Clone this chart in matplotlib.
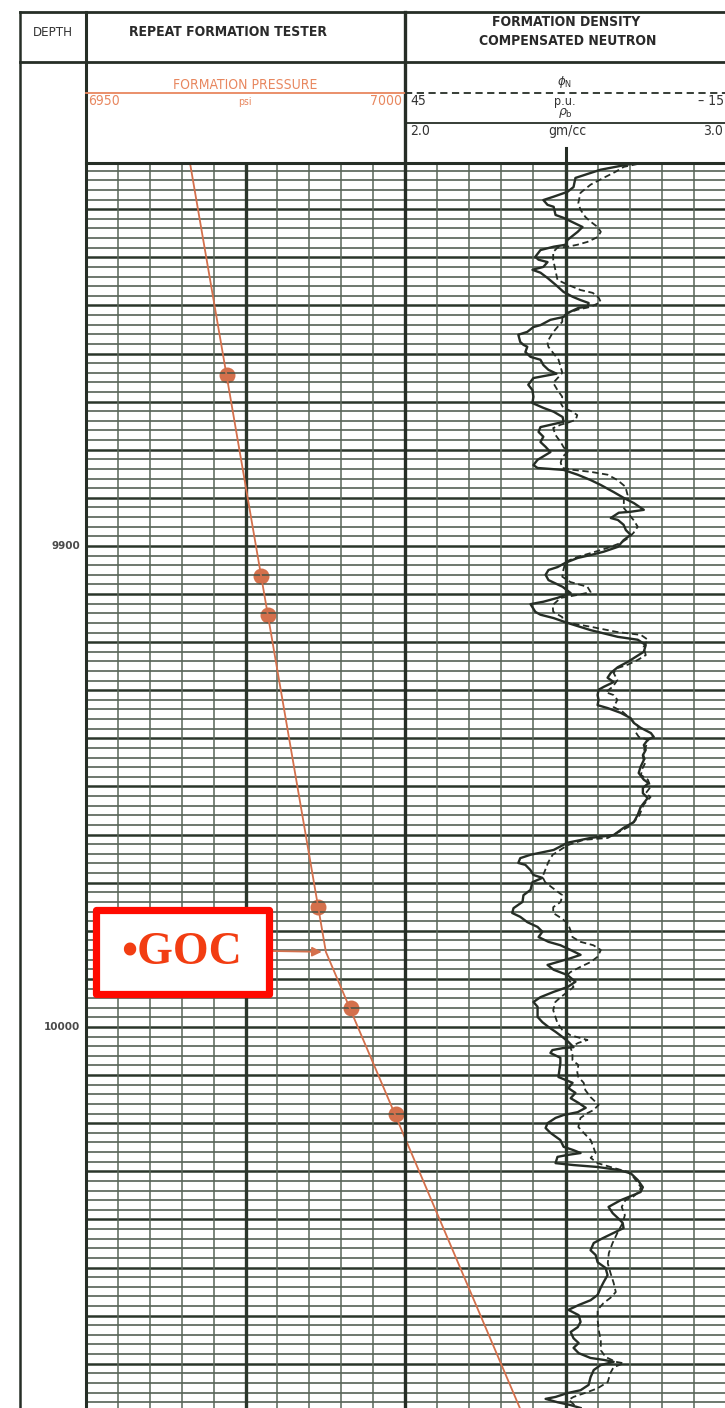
import matplotlib
matplotlib.use('Agg')
import matplotlib.pyplot as plt
from matplotlib.lines import Line2D
from matplotlib.patches import Rectangle
import numpy as np

# RFT pressure test points (depth ft, psi)
rft_depth = [9864.4, 9906.2, 9914.3, 9975.1, 9996.0, 10018.1]
rft_pressure = [6972.1, 6977.4, 6978.5, 6986.4, 6991.5, 6998.6]

# gas and oil gradient lines meeting at the gas-oil contact
trend_depth = [9820.4, 9984.4, 10079.2]
trend_pressure = [6966.3, 6987.6, 7018.0]
goc_depth = 9984.4

depth_labels = [9900, 10000]

# bulk density (solid curve)
rhob_depth = [
    9820.6, 9821.8, 9823.5, 9825.4, 9826.4, 9827.4, 9828.1, 9829.1, 9829.5, 9831.2,
    9831.8, 9832.8, 9833.7, 9834.7, 9836.4, 9837.4, 9837.8, 9838.5, 9839.9, 9840.5,
    9841.0, 9842.0, 9842.6, 9843.2, 9844.3, 9845.7, 9847.2, 9848.2, 9848.9, 9849.5,
    9850.3, 9850.5, 9851.6, 9852.4, 9853.0, 9854.1, 9854.5, 9855.5, 9856.1, 9857.6,
    9858.2, 9858.6, 9859.7, 9860.7, 9861.3, 9862.4, 9863.4, 9864.2, 9865.1, 9866.5,
    9867.6, 9869.0, 9870.3, 9871.3, 9872.1, 9873.2, 9874.2, 9875.3, 9876.3, 9877.3,
    9878.4, 9879.4, 9880.5, 9881.1, 9882.1, 9883.2, 9883.8, 9884.2, 9885.2, 9886.3,
    9887.3, 9888.8, 9890.0, 9891.1, 9892.5, 9892.9, 9893.1, 9894.2, 9894.6, 9895.6,
    9896.7, 9897.7, 9898.8, 9900.2, 9901.2, 9901.9, 9902.5, 9903.5, 9904.4, 9905.0,
    9906.0, 9907.1, 9908.5, 9909.8, 9910.8, 9911.6, 9912.1, 9913.7, 9914.3, 9915.0,
    9916.0, 9917.5, 9918.9, 9919.5, 9920.6, 9922.0, 9923.3, 9924.1, 9925.2, 9926.4,
    9927.4, 9928.3, 9929.3, 9929.9, 9931.0, 9932.0, 9933.1, 9933.7, 9934.7, 9935.8,
    9936.8, 9937.8, 9938.9, 9939.7, 9940.3, 9941.4, 9942.4, 9943.5, 9944.5, 9945.9,
    9947.2, 9948.6, 9949.3, 9950.3, 9951.4, 9952.4, 9954.3, 9955.9, 9957.4, 9958.6,
    9960.1, 9960.7, 9961.7, 9963.2, 9964.2, 9964.9, 9965.9, 9966.3, 9967.4, 9968.4,
    9969.0, 9969.9, 9971.5, 9972.6, 9974.0, 9975.3, 9976.3, 9977.1, 9978.2, 9979.2,
    9980.2, 9981.3, 9982.3, 9983.0, 9984.0, 9985.0, 9985.7, 9986.5, 9987.1, 9988.1,
    9989.2, 9990.6, 9991.7, 9992.7, 9993.8, 9994.8, 9995.8, 9997.9, 9999.0, 10000.0,
    10001.0, 10002.1, 10003.1, 10004.2, 10004.4, 10004.8, 10005.4, 10006.4, 10007.5, 10010.4,
    10011.0, 10011.6, 10012.7, 10013.7, 10014.8, 10015.8, 10016.8, 10017.7, 10018.3, 10018.9,
    10020.0, 10021.0, 10022.0, 10023.5, 10024.9, 10025.6, 10026.2, 10026.6, 10027.0, 10028.3,
    10028.7, 10029.1, 10029.7, 10030.4, 10031.8, 10033.3, 10034.3, 10034.9, 10036.0, 10037.4,
    10038.7, 10039.7, 10040.7, 10041.8, 10042.8, 10043.9, 10044.9, 10046.4, 10047.4, 10048.9,
    10050.1, 10051.6, 10053.0, 10054.3, 10055.7, 10056.8, 10057.8, 10058.8, 10059.9, 10061.3,
    10062.4, 10063.4, 10064.7, 10065.7, 10066.7, 10067.8, 10068.8, 10069.2, 10069.6, 10070.3,
    10071.3, 10072.8, 10074.4, 10075.5, 10076.1, 10076.9, 10077.3, 10078.0, 10078.6, 10079.2,
]
rhob = [
    2.703, 2.609, 2.531, 2.525, 2.506, 2.463, 2.431, 2.444, 2.463, 2.469,
    2.494, 2.525, 2.553, 2.538, 2.506, 2.500, 2.463, 2.422, 2.406, 2.416,
    2.444, 2.431, 2.397, 2.422, 2.444, 2.469, 2.494, 2.522, 2.547, 2.572,
    2.569, 2.541, 2.506, 2.494, 2.453, 2.422, 2.400, 2.381, 2.353, 2.359,
    2.369, 2.381, 2.375, 2.391, 2.422, 2.431, 2.447, 2.472, 2.400, 2.384,
    2.397, 2.400, 2.397, 2.431, 2.463, 2.491, 2.494, 2.422, 2.416, 2.431,
    2.422, 2.438, 2.453, 2.438, 2.413, 2.400, 2.413, 2.494, 2.538, 2.578,
    2.609, 2.650, 2.681, 2.713, 2.744, 2.703, 2.666, 2.641, 2.663, 2.681,
    2.688, 2.703, 2.681, 2.663, 2.619, 2.578, 2.538, 2.500, 2.475, 2.447,
    2.438, 2.447, 2.491, 2.516, 2.475, 2.431, 2.391, 2.406, 2.422, 2.463,
    2.506, 2.578, 2.663, 2.725, 2.750, 2.744, 2.713, 2.694, 2.663, 2.641,
    2.631, 2.650, 2.619, 2.603, 2.600, 2.603, 2.600, 2.631, 2.672, 2.703,
    2.713, 2.734, 2.766, 2.775, 2.756, 2.744, 2.750, 2.741, 2.744, 2.734,
    2.728, 2.744, 2.759, 2.741, 2.741, 2.756, 2.734, 2.725, 2.713, 2.681,
    2.650, 2.578, 2.506, 2.463, 2.391, 2.359, 2.353, 2.375, 2.391, 2.400,
    2.428, 2.397, 2.391, 2.369, 2.366, 2.338, 2.334, 2.359, 2.381, 2.413,
    2.428, 2.416, 2.447, 2.484, 2.516, 2.547, 2.516, 2.475, 2.444, 2.463,
    2.506, 2.531, 2.506, 2.463, 2.422, 2.400, 2.413, 2.413, 2.428, 2.447,
    2.469, 2.491, 2.509, 2.525, 2.491, 2.459, 2.453, 2.484, 2.484, 2.478,
    2.500, 2.522, 2.509, 2.531, 2.516, 2.541, 2.563, 2.538, 2.494, 2.469,
    2.444, 2.438, 2.453, 2.484, 2.494, 2.525, 2.547, 2.506, 2.475, 2.469,
    2.525, 2.600, 2.663, 2.703, 2.725, 2.741, 2.734, 2.713, 2.672, 2.634,
    2.647, 2.663, 2.678, 2.681, 2.650, 2.616, 2.588, 2.578, 2.594, 2.600,
    2.625, 2.631, 2.619, 2.609, 2.600, 2.578, 2.541, 2.509, 2.541, 2.547,
    2.538, 2.516, 2.525, 2.541, 2.525, 2.541, 2.578, 2.619, 2.650, 2.609,
    2.588, 2.578, 2.572, 2.547, 2.506, 2.469, 2.438, 2.475, 2.516, 2.547,
]

# neutron porosity (dashed curve)
nphi_depth = [
    9820.6, 9821.2, 9822.2, 9823.5, 9824.9, 9826.6, 9828.7, 9830.1, 9831.6, 9832.6,
    9833.7, 9834.7, 9835.8, 9836.8, 9837.4, 9837.8, 9838.0, 9838.9, 9840.5, 9842.6,
    9844.7, 9845.7, 9846.8, 9847.4, 9848.4, 9849.3, 9850.3, 9850.9, 9851.6, 9852.4,
    9853.4, 9854.5, 9855.7, 9857.6, 9858.6, 9859.9, 9861.3, 9862.8, 9864.0, 9864.9,
    9866.1, 9867.6, 9869.0, 9870.3, 9871.3, 9872.1, 9872.8, 9873.8, 9874.4, 9874.8,
    9875.5, 9876.9, 9878.4, 9879.4, 9880.5, 9881.5, 9882.7, 9883.8, 9884.2, 9884.6,
    9885.2, 9886.3, 9887.7, 9889.4, 9890.4, 9892.1, 9893.1, 9894.6, 9896.0, 9897.3,
    9898.3, 9899.4, 9900.4, 9901.5, 9902.3, 9903.3, 9905.0, 9906.4, 9907.5, 9908.5,
    9909.6, 9910.2, 9910.8, 9912.3, 9913.7, 9914.8, 9915.8, 9916.8, 9917.9, 9918.5,
    9919.5, 9921.0, 9922.7, 9923.7, 9924.7, 9925.4, 9926.4, 9927.9, 9929.3, 9930.4,
    9931.0, 9932.0, 9933.5, 9934.5, 9935.6, 9936.6, 9937.6, 9938.7, 9939.7, 9940.3,
    9941.8, 9943.0, 9944.9, 9946.2, 9947.6, 9948.6, 9950.1, 9951.4, 9952.2, 9953.8,
    9956.3, 9958.4, 9959.5, 9960.7, 9961.1, 9962.2, 9964.2, 9965.7, 9967.4, 9968.8,
    9969.9, 9971.1, 9972.6, 9974.0, 9975.1, 9976.3, 9977.3, 9978.4, 9979.8, 9981.3,
    9982.3, 9983.0, 9984.0, 9985.4, 9986.5, 9987.5, 9988.6, 9989.6, 9990.6, 9991.7,
    9992.7, 9993.8, 9994.8, 9996.5, 9999.2, 10000.6, 10001.7, 10002.7, 10003.3, 10004.2,
    10005.4, 10006.9, 10007.9, 10009.4, 10010.4, 10011.6, 10013.1, 10014.6, 10016.2, 10017.3,
    10017.9, 10018.9, 10020.8, 10022.0, 10023.5, 10024.9, 10026.2, 10027.2, 10028.3, 10029.3,
    10030.1, 10031.2, 10033.3, 10034.3, 10035.3, 10036.0, 10037.4, 10039.1, 10040.7, 10042.8,
    10044.9, 10047.0, 10049.1, 10051.1, 10053.2, 10055.1, 10056.3, 10057.4, 10058.8, 10060.9,
    10063.0, 10065.1, 10067.2, 10068.6, 10069.6, 10069.9, 10070.7, 10071.9, 10073.8, 10075.1,
    10075.9, 10076.9, 10077.5, 10078.2, 10079.2,
]
nphi = [
    1.5, 4.1, 5.6, 7.9, 10.3, 12.2, 12.6, 12.2, 11.3, 10.3,
    9.0, 8.4, 9.0, 10.9, 12.8, 14.6, 16.5, 17.3, 17.3, 16.9,
    16.5, 14.6, 12.2, 9.9, 8.8, 8.4, 10.3, 12.8, 14.6, 15.6,
    15.6, 16.5, 17.4, 18.4, 18.2, 17.3, 16.3, 15.9, 15.6, 16.3,
    17.3, 16.5, 15.6, 15.9, 15.4, 13.7, 12.8, 13.1, 14.6, 15.9,
    17.3, 16.9, 15.9, 15.4, 14.6, 15.6, 15.9, 15.6, 13.5, 10.3,
    7.1, 5.3, 3.8, 3.4, 4.1, 4.1, 3.4, 2.3, 1.5, 2.3,
    3.2, 4.7, 7.1, 10.3, 12.8, 15.0, 15.4, 15.6, 14.1, 10.9,
    10.3, 12.8, 15.9, 17.4, 17.3, 15.6, 15.4, 10.3, 5.3, 0.9,
    -0.4, 0.4, 0.0, 1.5, 3.4, 5.3, 6.0, 5.3, 6.2, 7.5,
    6.0, 5.3, 6.0, 4.3, 3.2, 2.3, 1.3, 1.9, 1.3, -0.4,
    0.0, 0.6, 0.0, 0.6, 0.9, -0.4, -0.9, 0.0, -0.9, 0.4,
    1.3, 3.2, 5.1, 7.1, 11.6, 14.6, 17.4, 18.2, 18.8, 19.3,
    18.8, 17.4, 15.6, 15.9, 17.3, 17.3, 15.9, 14.6, 14.1, 13.7,
    12.2, 9.8, 8.4, 9.0, 10.3, 12.2, 14.1, 15.0, 14.1, 13.5,
    14.6, 15.9, 16.9, 17.3, 16.5, 15.6, 14.1, 10.9, 12.6, 14.1,
    13.7, 13.7, 12.6, 12.8, 12.6, 11.6, 11.3, 10.3, 8.8, 9.8,
    10.9, 12.2, 12.6, 11.6, 10.3, 9.8, 9.4, 10.3, 9.0, 6.0,
    3.4, 2.3, 0.9, 1.3, 2.4, 3.8, 4.5, 3.9, 4.3, 5.3,
    6.2, 6.9, 7.1, 6.6, 6.0, 5.6, 6.6, 7.9, 9.0, 9.0,
    8.8, 8.4, 8.4, 7.5, 5.6, 4.1, 6.0, 6.6, 7.1, 9.0,
    10.9, 13.5, 14.4, 13.7, 12.8,
]

W, H = 725, 1408
TOP_DEPTH, BOTTOM_DEPTH = 9820.4, 10079.2

GRID_THIN = '#465446'
GRID_VERT = '#596659'
GRID_HEAVY = '#2b362b'
INK = '#262e26'
ORANGE = '#d4704c'
ORANGE_TXT = '#e8875f'
NARROW = ['Liberation Sans Narrow', 'DejaVu Sans']


def fx(x):
    return x / W


def fy(y):
    return 1 - y / H


def fig_line(x1, y1, x2, y2, **kw):
    fig.add_artist(Line2D([fx(x1), fx(x2)], [fy(y1), fy(y2)],
                          transform=fig.transFigure, zorder=5, **kw))


def draw_grid(ax, xmin, xmax):
    depths = np.arange(9822, 10080, 2)
    heavy = depths[depths % 10 == 0]
    thin = depths[depths % 10 != 0]
    ax.hlines(thin, xmin, xmax, color=GRID_THIN, lw=1.1, zorder=1)
    ax.hlines(heavy, xmin, xmax, color=GRID_HEAVY, lw=1.8, zorder=1)
    xs = np.linspace(xmin, xmax, 11)
    ax.vlines(xs[1:-1], BOTTOM_DEPTH, TOP_DEPTH, color=GRID_VERT, lw=1.1, zorder=1)
    ax.vlines(xs[5], BOTTOM_DEPTH, TOP_DEPTH, color=GRID_HEAVY, lw=2.4, zorder=1)


fig = plt.figure(figsize=(7.25, 14.08), dpi=100)
fig.patch.set_facecolor('white')

track_h = fy(163)

# depth track
ax_d = fig.add_axes([fx(20), 0, fx(86) - fx(20), track_h])
ax_d.set_ylim(BOTTOM_DEPTH, TOP_DEPTH)
ax_d.set_axis_off()
for d in depth_labels:
    ax_d.text(0.91, d, str(d), transform=ax_d.get_yaxis_transform(),
              ha='right', va='center', fontsize=7.5, fontweight='bold', color='#4a4a4a')

# track 2: density / neutron
ax2 = fig.add_axes([fx(405), 0, fx(726) - fx(405), track_h])
ax2.set_xlim(2.0, 3.0)
ax2.set_ylim(BOTTOM_DEPTH, TOP_DEPTH)
ax2.set_axis_off()
ax2.set_zorder(1)
draw_grid(ax2, 2.0, 3.0)
ax2.plot(rhob, rhob_depth, color=INK, lw=1.7, zorder=3)

ax_n = fig.add_axes([fx(405), 0, fx(726) - fx(405), track_h])
ax_n.set_xlim(45, -15)
ax_n.set_ylim(BOTTOM_DEPTH, TOP_DEPTH)
ax_n.set_axis_off()
ax_n.set_zorder(1.5)
ax_n.plot(nphi, nphi_depth, color=INK, lw=1.3, dashes=(3.5, 2.0), zorder=3)

# track 1: RFT formation pressure
ax1 = fig.add_axes([fx(86), 0, fx(405) - fx(86), track_h])
ax1.set_xlim(6950, 7000)
ax1.set_ylim(BOTTOM_DEPTH, TOP_DEPTH)
ax1.set_axis_off()
ax1.set_zorder(2)
draw_grid(ax1, 6950, 7000)
ax1.plot(rft_pressure, rft_depth, 'o', ms=11.5, color=ORANGE, mec='none',
         clip_on=False, zorder=0.5)
ax1.plot(trend_pressure, trend_depth, color=ORANGE, lw=1.3, clip_on=False, zorder=3)
ax1.annotate('', xy=(trend_pressure[1], goc_depth), xytext=(fx(272), fy(951)),
             textcoords='figure fraction',
             arrowprops=dict(arrowstyle='-|>', color=ORANGE, lw=1.3,
                             mutation_scale=14, shrinkA=0, shrinkB=3))

# frame lines
fig_line(20, 12, 725, 12, color=INK, lw=2.0)
fig_line(20, 62, 725, 62, color=INK, lw=2.0)
fig_line(86, 163, 725, 163, color=INK, lw=2.2)
fig_line(20, 12, 20, 1408, color=INK, lw=1.8)
fig_line(86, 12, 86, 1408, color=INK, lw=2.2)
fig_line(405, 12, 405, 1408, color=INK, lw=2.4)
fig_line(566, 148, 566, 163, color=INK, lw=2.2)

# header titles
title_kw = dict(ha='center', va='center', fontsize=10, fontweight='bold',
                color='#2a2a2a', family=NARROW, fontstretch='condensed')
fig.text(fx(53), fy(32), 'DEPTH', ha='center', va='center', fontsize=9.5,
         color='#333333', family=NARROW, fontstretch='condensed')
fig.text(fx(228), fy(32), 'REPEAT FORMATION TESTER', **title_kw)
fig.text(fx(566), fy(22), 'FORMATION DENSITY', **title_kw)
fig.text(fx(568), fy(41), 'COMPENSATED NEUTRON', **title_kw)

# track 1 scale
small_kw = dict(va='center', family=NARROW, fontstretch='condensed')
fig.text(fx(245), fy(85), 'FORMATION PRESSURE', ha='center', fontsize=10,
         color=ORANGE_TXT, **small_kw)
fig_line(86, 93, 405, 93, color=ORANGE_TXT, lw=1.3)
fig.text(fx(88), fy(101), '6950', ha='left', fontsize=10, color=ORANGE_TXT, **small_kw)
fig.text(fx(245), fy(102), 'psi', ha='center', fontsize=7.5, color=ORANGE_TXT, **small_kw)
fig.text(fx(402), fy(101), '7000', ha='right', fontsize=10, color=ORANGE_TXT, **small_kw)

# track 2 scales
fig.text(fx(565), fy(82), r'$\phi_{\mathrm{N}}$', ha='center', va='center',
         fontsize=8.5, color='#333333')
fig_line(405, 93, 725, 93, color=INK, lw=1.3, dashes=(4, 2.5))
fig.text(fx(410), fy(101), '45', ha='left', fontsize=10, color='#333333', **small_kw)
fig.text(fx(565), fy(102), 'p.u.', ha='center', fontsize=9, color='#333333', **small_kw)
fig.text(fx(724), fy(101), '\u2013 15', ha='right', fontsize=10, color='#333333', **small_kw)
fig.text(fx(565), fy(113), r'$\rho_{\mathrm{b}}$', ha='center', va='center',
         fontsize=9, color='#333333')
fig_line(405, 123, 725, 123, color=INK, lw=1.3)
fig.text(fx(410), fy(131), '2.0', ha='left', fontsize=10, color='#333333', **small_kw)
fig.text(fx(567), fy(131), 'gm/cc', ha='center', fontsize=10, color='#333333', **small_kw)
fig.text(fx(723), fy(131), '3.0', ha='right', fontsize=10, color='#333333', **small_kw)

# GOC callout
box = Rectangle((fx(95.5), fy(993.5)), fx(268.5) - fx(95.5), fy(909.5) - fy(993.5),
                transform=fig.transFigure, facecolor='white', edgecolor='#ff0a00',
                lw=5.2, joinstyle='round', zorder=10)
fig.add_artist(box)
fig.text(fx(182), fy(953), '\u2022GOC', ha='center', va='center', fontsize=33,
         fontweight='bold', color='#f23d12',
         family=['Liberation Serif', 'DejaVu Serif'], zorder=11)

fig.savefig('out.png', dpi=100, facecolor='white')
